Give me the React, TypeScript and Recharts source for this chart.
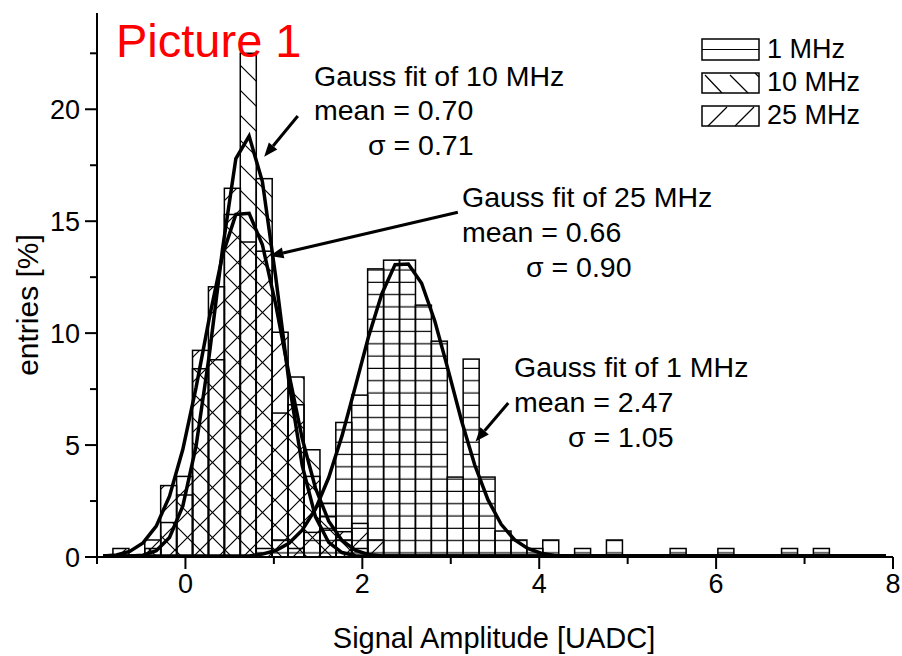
import { ComposedChart, Bar, Line, XAxis, YAxis, ReferenceLine } from 'recharts'

// histogram bins (centres, width 0.18)
const BIN_X = [
  -0.91, -0.73, -0.55, -0.37, -0.19, -0.01, 0.17, 0.35, 0.53, 0.71,
  0.89, 1.07, 1.25, 1.43, 1.61, 1.79, 1.97, 2.15, 2.33, 2.51,
  2.69, 2.87, 3.05, 3.23, 3.41, 3.59, 3.77, 3.95, 4.13, 4.31,
  4.49, 4.67, 4.85, 5.03, 5.21, 5.39, 5.57, 5.75, 5.93, 6.11,
  6.29, 6.47, 6.65, 6.83, 7.01, 7.19, 7.37, 7.55, 7.73, 7.91,
]
const MHZ_1 = [
  0, 0, 0, 0, 0, 0, 0, 0, 0, 0,
  0.38, 0.76, 0.38, 1.1, 2.4, 6.01, 7.23, 12.87, 13.26, 13.26,
  11.25, 9.64, 3.57, 8.84, 3.57, 1.16, 0.76, 0.38, 0.76, 0,
  0.38, 0, 0.76, 0, 0, 0, 0.38, 0, 0, 0.38,
  0, 0, 0, 0.38, 0, 0.38, 0, 0, 0, 0,
]
const MHZ_10 = [
  0, 0, 0, 0.38, 1.54, 2.77, 8.41, 8.81, 15.3, 22.5,
  16.9, 6.43, 8.04, 4.79, 1.8, 0.76, 0.38, 0, 0, 0,
  0, 0, 0, 0, 0, 0, 0, 0, 0, 0,
  0, 0, 0, 0, 0, 0, 0, 0, 0, 0,
  0, 0, 0, 0, 0, 0, 0, 0, 0, 0,
]
const MHZ_25 = [
  0, 0.38, 0, 0.76, 3.19, 3.6, 9.23, 12.07, 16.47, 14.07,
  13.66, 10.04, 6.8, 3.6, 1.2, 1.13, 1.5, 0.76, 0, 0,
  0, 0, 0, 0, 0, 0, 0, 0, 0, 0,
  0, 0, 0, 0, 0, 0, 0, 0, 0, 0,
  0, 0, 0, 0, 0, 0, 0, 0, 0, 0,
]

// gauss fit curves
const FIT_X = [
  -0.93, -0.78, -0.63, -0.48, -0.33, -0.18, -0.03, 0.12, 0.27, 0.42,
  0.57, 0.72, 0.87, 1.02, 1.17, 1.32, 1.47, 1.62, 1.77, 1.92,
  2.07, 2.22, 2.37, 2.52, 2.67, 2.82, 2.97, 3.12, 3.27, 3.42,
  3.57, 3.72, 3.87, 4.02, 4.17, 4.32, 4.47, 4.62, 4.77, 4.92,
  5.07, 5.22, 5.37, 5.52, 5.67, 5.82, 5.97, 6.12, 6.27, 6.42,
  6.57, 6.72, 6.87, 7.02, 7.17, 7.32, 7.47, 7.62, 7.77, 7.92,
]
const FIT_1 = [
  0.05, 0.05, 0.05, 0.05, 0.05, 0.05, 0.05, 0.05, 0.05, 0.05,
  0.05, 0.05, 0.13, 0.29, 0.61, 1.2, 2.14, 3.55, 5.41, 7.6,
  9.84, 11.75, 13.06, 13.09, 12.23, 10.53, 8.36, 6.11, 4.12, 2.56,
  1.46, 0.77, 0.38, 0.17, 0.07, 0.05, 0.05, 0.05, 0.05, 0.05,
  0.05, 0.05, 0.05, 0.05, 0.05, 0.05, 0.05, 0.05, 0.05, 0.05,
  0.05, 0.05, 0.05, 0.05, 0.05, 0.05, 0.05, 0.05, 0.05, 0.05,
]
const FIT_10 = [
  0.05, 0.05, 0.05, 0.08, 0.28, 0.87, 2.27, 4.95, 9.03, 13.78,
  17.8, 18.8, 16.77, 12.53, 7.83, 4.09, 1.79, 0.65, 0.2, 0.06,
  0.05, 0.05, 0.05, 0.05, 0.05, 0.05, 0.05, 0.05, 0.05, 0.05,
  0.05, 0.05, 0.05, 0.05, 0.05, 0.05, 0.05, 0.05, 0.05, 0.05,
  0.05, 0.05, 0.05, 0.05, 0.05, 0.05, 0.05, 0.05, 0.05, 0.05,
  0.05, 0.05, 0.05, 0.05, 0.05, 0.05, 0.05, 0.05, 0.05, 0.05,
]
const FIT_25 = [
  0.05, 0.09, 0.25, 0.63, 1.38, 2.72, 4.8, 7.57, 10.68, 13.49,
  15.3, 15.35, 13.95, 11.29, 8.18, 5.3, 3.08, 1.6, 0.74, 0.31,
  0.11, 0.05, 0.05, 0.05, 0.05, 0.05, 0.05, 0.05, 0.05, 0.05,
  0.05, 0.05, 0.05, 0.05, 0.05, 0.05, 0.05, 0.05, 0.05, 0.05,
  0.05, 0.05, 0.05, 0.05, 0.05, 0.05, 0.05, 0.05, 0.05, 0.05,
  0.05, 0.05, 0.05, 0.05, 0.05, 0.05, 0.05, 0.05, 0.05, 0.05,
]

const X_TICKS = [-1, 0, 1, 2, 3, 4, 5, 6, 7, 8]
const Y_TICKS = [0, 2.5, 5, 7.5, 10, 12.5, 15, 17.5, 20, 22.5]
const X_DOMAIN = [-1, 8]
const Y_DOMAIN = [0, 24.3]

// arrows of the annotations, in data units [from, to]
const ARROW_10 = [{ x: 1.27, y: 19.7 }, { x: 0.89, y: 17.88 }]
const ARROW_25 = [{ x: 3.08, y: 15.4 }, { x: 0.95, y: 13.44 }]
const ARROW_1 = [{ x: 3.65, y: 6.88 }, { x: 3.28, y: 5.16 }]

const binData = BIN_X.map((x, i) => ({ x, m1: MHZ_1[i], m10: MHZ_10[i], m25: MHZ_25[i] }))
const fitData = FIT_X.map((x, i) => ({ x, f1: FIT_1[i], f10: FIT_10[i], f25: FIT_25[i] }))

const FONT = '"Liberation Sans", Arial, sans-serif'
const AXIS_LINE = { stroke: '#000', strokeWidth: 2 }

function BottomTick({ x, y, payload }: any) {
  const major = payload.value % 2 === 0
  return (
    <g>
      <line x1={x} y1={y} x2={x} y2={y + (major ? 12 : 7)} stroke="#000" strokeWidth={2} />
      {major && (
        <text x={x} y={y + 36} textAnchor="middle" fontSize={27} fontFamily={FONT} fill="#000">{payload.value}</text>
      )}
    </g>
  )
}

function TopTick({ x, y, payload }: any) {
  const major = payload.value % 2 === 0
  return <line x1={x} y1={y} x2={x} y2={y + (major ? 11 : 7)} stroke="#000" strokeWidth={2} />
}

function LeftTick({ x, y, payload }: any) {
  const major = payload.value % 5 === 0
  return (
    <g>
      <line x1={x} y1={y} x2={x - (major ? 12 : 7)} y2={y} stroke="#000" strokeWidth={2} />
      {major && (
        <text x={x - 17} y={y + 10} textAnchor="end" fontSize={27} fontFamily={FONT} fill="#000">{payload.value}</text>
      )}
    </g>
  )
}

function RightTick({ x, y, payload }: any) {
  const major = payload.value % 5 === 0
  return <line x1={x} y1={y} x2={x - (major ? 11 : 7)} y2={y} stroke="#000" strokeWidth={2} />
}

function HatchBar(props: any) {
  const { x, y, width, height, fill } = props
  if (!height || height <= 0) return <g />
  return <rect x={x} y={y} width={width + 1} height={height} fill={fill} stroke="#000" strokeWidth={1.5} />
}

function Arrow(props: any) {
  const { x1, y1, x2, y2 } = props
  const a = Math.atan2(y2 - y1, x2 - x1)
  const bx = x2 - 14 * Math.cos(a)
  const by = y2 - 14 * Math.sin(a)
  const px = -Math.sin(a) * 5.5
  const py = Math.cos(a) * 5.5
  return (
    <g>
      <line x1={x1} y1={y1} x2={bx} y2={by} stroke="#000" strokeWidth={3} />
      <polygon points={`${x2},${y2} ${bx + px},${by + py} ${bx - px},${by - py}`} fill="#000" />
    </g>
  )
}

function Txt({ x, y, size = 28.5, children, fill = '#000' }: any) {
  return <text x={x} y={y} fontSize={size} fontFamily={FONT} fill={fill}>{children}</text>
}

export default function App() {
  return (
    <div style={{ position: 'absolute', left: 0, top: 0, width: 902, height: 656, background: '#fff' }}>
      <svg width={0} height={0} style={{ position: 'absolute' }}>
        <defs>
          <pattern id="hatchH" patternUnits="userSpaceOnUse" width={10} height={12.3}>
            <line x1={0} y1={11.7} x2={10} y2={11.7} stroke="#000" strokeWidth={1.2} />
          </pattern>
          <pattern id="hatchB" patternUnits="userSpaceOnUse" width={25} height={25}>
            <path d="M0,0 L25,25 M-5,20 L5,30 M20,-5 L30,5" stroke="#000" strokeWidth={1.2} />
          </pattern>
          <pattern id="hatchF" patternUnits="userSpaceOnUse" width={25} height={25}>
            <path d="M0,25 L25,0 M-5,5 L5,-5 M20,30 L30,20" stroke="#000" strokeWidth={1.2} />
          </pattern>
        </defs>
      </svg>

      <ComposedChart width={902} height={656} data={binData} margin={{ top: 13, right: 9, bottom: 0, left: 0 }}>
        <XAxis xAxisId="b" type="number" dataKey="x" domain={X_DOMAIN} allowDataOverflow ticks={X_TICKS} interval={0}
          height={99} tickSize={0} tickMargin={0} tickLine={false} axisLine={AXIS_LINE} tick={<BottomTick />} />
        <XAxis xAxisId="b10" type="number" dataKey="x" domain={X_DOMAIN} allowDataOverflow hide />
        <XAxis xAxisId="b25" type="number" dataKey="x" domain={X_DOMAIN} allowDataOverflow hide />
        <XAxis xAxisId="fit" type="number" dataKey="x" domain={X_DOMAIN} allowDataOverflow hide />
        <XAxis xAxisId="top" orientation="top" type="number" dataKey="x" domain={X_DOMAIN} allowDataOverflow ticks={X_TICKS}
          interval={0} height={0} tickSize={0} tickMargin={0} tickLine={false} axisLine={AXIS_LINE} tick={<TopTick />} />
        <YAxis yAxisId="l" type="number" domain={Y_DOMAIN} allowDataOverflow ticks={Y_TICKS} interval={0} width={97}
          tickSize={0} tickMargin={0} tickLine={false} axisLine={AXIS_LINE} tick={<LeftTick />} />
        <YAxis yAxisId="r" orientation="right" type="number" domain={Y_DOMAIN} allowDataOverflow ticks={Y_TICKS} interval={0}
          width={0} tickSize={0} tickMargin={0} tickLine={false} axisLine={AXIS_LINE} tick={<RightTick />} />

        <Bar xAxisId="b" yAxisId="l" dataKey="m1" barSize={15} fill="url(#hatchH)" shape={<HatchBar />} isAnimationActive={false} />
        <Bar xAxisId="b10" yAxisId="l" dataKey="m10" barSize={15} fill="url(#hatchB)" shape={<HatchBar />} isAnimationActive={false} />
        <Bar xAxisId="b25" yAxisId="l" dataKey="m25" barSize={15} fill="url(#hatchF)" shape={<HatchBar />} isAnimationActive={false} />

        <Line xAxisId="fit" yAxisId="l" data={fitData} dataKey="f1" type="linear" stroke="#000" strokeWidth={3.5} dot={false} isAnimationActive={false} />
        <Line xAxisId="fit" yAxisId="l" data={fitData} dataKey="f10" type="linear" stroke="#000" strokeWidth={3.5} dot={false} isAnimationActive={false} />
        <Line xAxisId="fit" yAxisId="l" data={fitData} dataKey="f25" type="linear" stroke="#000" strokeWidth={3.5} dot={false} isAnimationActive={false} />

        <ReferenceLine xAxisId="b" yAxisId="l" segment={ARROW_10} ifOverflow="visible" shape={Arrow} />
        <ReferenceLine xAxisId="b" yAxisId="l" segment={ARROW_25} ifOverflow="visible" shape={Arrow} />
        <ReferenceLine xAxisId="b" yAxisId="l" segment={ARROW_1} ifOverflow="visible" shape={Arrow} />
      </ComposedChart>

      <svg width={902} height={656} style={{ position: 'absolute', left: 0, top: 0, pointerEvents: 'none' }}>
        <Txt x={116} y={57} size={47} fill="#ff0000">Picture 1</Txt>

        <Txt x={314} y={86}>Gauss fit of 10 MHz</Txt>
        <Txt x={314} y={120}>mean = 0.70</Txt>
        <Txt x={368} y={155}>σ = 0.71</Txt>

        <Txt x={462} y={207}>Gauss fit of 25 MHz</Txt>
        <Txt x={462} y={242}>mean = 0.66</Txt>
        <Txt x={526} y={277}>σ = 0.90</Txt>

        <Txt x={514} y={377}>Gauss fit of 1 MHz</Txt>
        <Txt x={514} y={412}>mean = 2.47</Txt>
        <Txt x={568} y={447}>σ = 1.05</Txt>

        <text x={494} y={648} textAnchor="middle" fontSize={29} fontFamily={FONT}>Signal Amplitude [UADC]</text>
        <text x={38} y={305} textAnchor="middle" fontSize={30} fontFamily={FONT} transform="rotate(-90 38 305)">entries [%]</text>

        {/* legend */}
        <g stroke="#000" strokeWidth={1.5} fill="none">
          <rect x={702} y={39} width={57} height={21} fill="#fff" />
          <line x1={702} y1={49.5} x2={759} y2={49.5} strokeWidth={1.2} />
          <rect x={702} y={73} width={57} height={20} fill="#fff" />
          <path d="M705,75 L722,93 M730,75 L748,93 M755,73 L759,77" strokeWidth={1.2} />
          <rect x={702} y={106} width={57} height={20} fill="#fff" />
          <path d="M708,126 L727,107 M735,126 L754,107" strokeWidth={1.2} />
        </g>
        <Txt x={767} y={58} size={27}>1 MHz</Txt>
        <Txt x={767} y={91} size={27}>10 MHz</Txt>
        <Txt x={767} y={124} size={27}>25 MHz</Txt>
      </svg>
    </div>
  )
}
